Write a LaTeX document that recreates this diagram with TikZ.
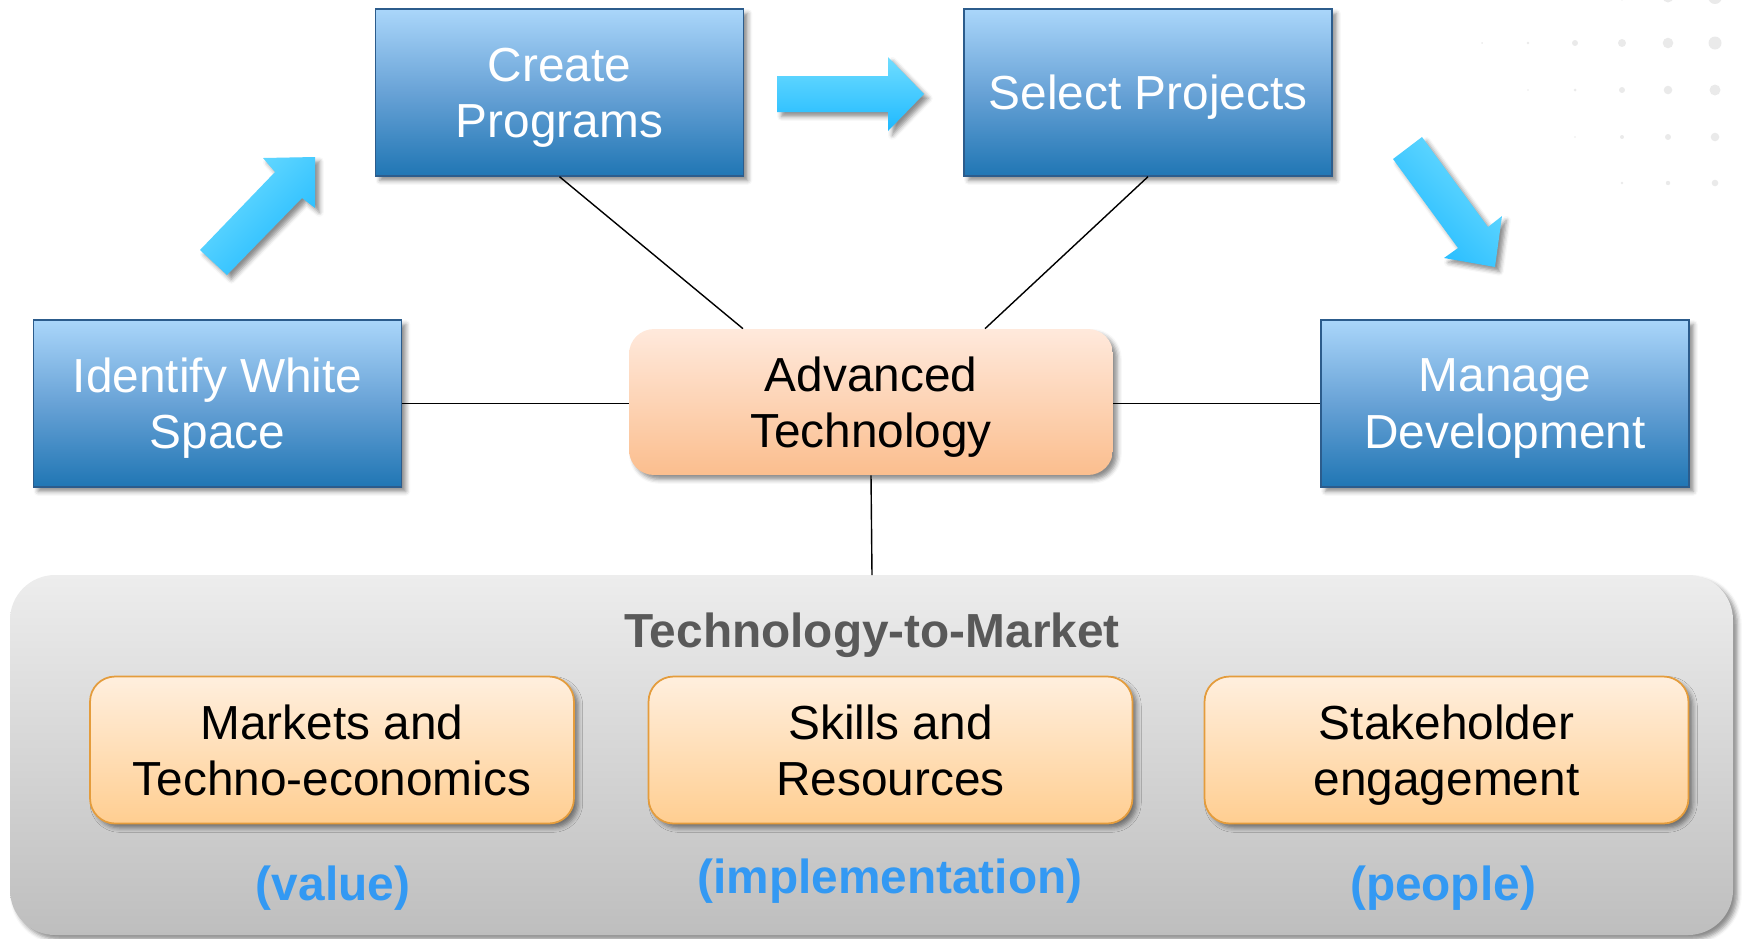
\documentclass[tikz,border=0pt]{standalone}
\usepackage{fontspec}
\setmainfont{Liberation Sans}
\usetikzlibrary{shadows.blur,calc}
\definecolor{bluetop}{RGB}{170,214,250}
\definecolor{bluemid}{RGB}{104,162,214}
\definecolor{bluebot}{RGB}{32,118,180}
\definecolor{blueedge}{RGB}{44,92,140}
\definecolor{ortop}{RGB}{255,239,222}
\definecolor{orbot}{RGB}{255,206,145}
\definecolor{oredge}{RGB}{228,156,60}
\definecolor{advtop}{RGB}{255,233,220}
\definecolor{advbot}{RGB}{251,190,142}
\definecolor{graytop}{RGB}{237,237,237}
\definecolor{graybot}{RGB}{190,190,190}
\definecolor{arrlight}{RGB}{112,221,255}
\definecolor{arrdark}{RGB}{30,185,255}
\definecolor{labelblue}{RGB}{51,153,243}
\definecolor{titlegray}{RGB}{89,89,89}
\definecolor{dotgray}{RGB}{234,234,234}
\newcommand\dgfont{\fontsize{27.2}{32}\selectfont}
\tikzset{
  shad/.style={blur shadow={shadow xshift=2.5pt,shadow yshift=-2.5pt,shadow blur radius=2.5pt,shadow opacity=45}},
  bluebox/.style={shad, draw=blueedge, line width=0.8pt, top color=bluetop, bottom color=bluebot, middle color=bluemid,
    minimum width=7.36cm, minimum height=3.34cm, text=white, align=center, font=\dgfont, inner sep=0pt, text depth=0pt},
  advbox/.style={shad, rounded corners=0.5cm, top color=advtop, bottom color=advbot,
    minimum width=9.68cm, minimum height=2.92cm, align=center, font=\dgfont, inner sep=0pt, text depth=0pt},
  orbox/.style={shad, draw=oredge, line width=1pt, rounded corners=0.5cm, top color=ortop, bottom color=orbot,
    minimum width=9.68cm, minimum height=2.94cm, align=center, font=\dgfont, inner sep=0pt, text depth=0pt},
  container/.style={shad, rounded corners=0.9cm, top color=graytop, bottom color=graybot},
  arrowshape/.style={shad, top color=arrlight, bottom color=arrdark},
  link/.style={draw=black, line width=0.8pt},
  sublabel/.style={text=labelblue, font=\dgfont\bfseries, anchor=base},
}
\begin{document}
\begin{tikzpicture}[x=0.02cm,y=-0.02cm]
\useasboundingbox (0,0) rectangle (1745,938);
% decorative dots
\foreach \px/\py/\r in {1575/-3/1.5,1622/-3/3.5,1668/-3/5.5,1715/-3/7,
  1482/43/1,1528/43/1.3,1575/43/3,1622/43/4,1668/43/5.3,1715/43/6.5,
  1528/90/0.8,1575/90/1.5,1622/90/3,1668/90/4.3,1715/90/5.5,
  1575/137/0.8,1622/137/2,1668/137/3,1715/137/4.3,
  1622/183/1.3,1668/183/2.2,1715/183/3.3}
  \fill[dotgray] (\px,\py) circle[radius=\r];
% container
\path[container] (10,575) rectangle (1733,935);
\coordinate (ctop) at (872,575);
\node[font=\dgfont\bfseries, text=titlegray, anchor=base] (title) at (872,647) {Technology-to-Market};
% central node
\node[advbox] (adv) at (871,402) {Advanced\\Technology};
% blue boxes
\node[bluebox] (cp) at (559.5,92.5) {Create\\Programs};
\node[bluebox] (sp) at (1148,92.5) {Select Projects};
\node[bluebox] (iw) at (217.6,403.5) {Identify White\\Space};
\node[bluebox] (md) at (1505,403.5) {Manage\\Development};
% connectors
\draw[link] (cp.south) -- (743,0 |- adv.north);
\draw[link] (sp.south) -- (985,0 |- adv.north);
\draw[link] (iw.east) -- (adv.west |- iw.east);
\draw[link] (adv.east |- md.west) -- (md.west);
\draw[link] (adv.south) -- (ctop);
% bottom boxes
\node[orbox] (mk) at (332,750) {Markets and\\Techno-economics};
\node[orbox] (sk) at (890.5,750) {Skills and\\Resources};
\node[orbox] (st) at (1446.5,750) {Stakeholder\\engagement};
\node[sublabel] (lv) at (333,900) {(value)};
\node[sublabel] (li) at (890,893) {(implementation)};
\node[sublabel] (lp) at (1443,900) {(people)};
% flow arrows
\path[arrowshape, shading angle=45] (200,250) -- (275,172) -- (263,158) -- (315,157) -- (315,208) -- (302,198) -- (227,275) -- cycle;
\path[arrowshape] (777,76) -- (888,76) -- (888,57) -- (924,94) -- (888,131) -- (888,112) -- (777,112) -- cycle;
\path[arrowshape, shading angle=-45] (1393,159) -- (1458,248) -- (1444,258) -- (1495,267) -- (1502,216) -- (1488,227) -- (1422,137) -- cycle;
\end{tikzpicture}
\end{document}
